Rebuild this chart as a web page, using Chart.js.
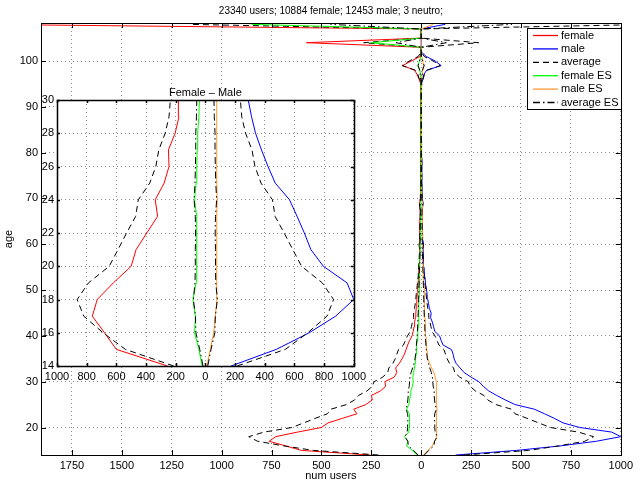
<!DOCTYPE html>
<html>
<head>
<meta charset="utf-8">
<script src="https://cdn.jsdelivr.net/npm/chart.js@4"></script>
<style>
  html, body { margin: 0; padding: 0; background: #fff; }
  #wrap { position: relative; width: 637px; height: 487px; }
  #mainBox { position: absolute; left: 0; top: 0; width: 637px; height: 487px; }
  #insetBox { position: absolute; left: 40px; top: 85px; width: 330px; height: 300px; }
</style>
</head>
<body>
<div id="wrap">
  <div id="mainBox"><canvas id="mainChart"></canvas></div>
  <div id="insetBox"><canvas id="insetChart"></canvas></div>
</div>
<script>
// ages 14..108
const ages = [
  14, 15, 16, 17, 18, 19, 20, 21, 22, 23,
  24, 25, 26, 27, 28, 29, 30, 31, 32, 33,
  34, 35, 36, 37, 38, 39, 40, 41, 42, 43,
  44, 45, 46, 47, 48, 49, 50, 51, 52, 53,
  54, 55, 56, 57, 58, 59, 60, 61, 62, 63,
  64, 65, 66, 67, 68, 69, 70, 71, 72, 73,
  74, 75, 76, 77, 78, 79, 80, 81, 82, 83,
  84, 85, 86, 87, 88, 89, 90, 91, 92, 93,
  94, 95, 96, 97, 98, 99, 100, 101, 102, 103,
  104, 105, 106, 107, 108
];
const female = [
  -255, -600, -680, -762, -729, -620, -500, -467, -395, -322,
  -338, -278, -245, -249, -204, -178, -182, -135, -122, -128,
  -110, -96, -84, -76, -68, -58, -46, -40, -36, -33,
  -29, -27, -25, -23, -21, -20, -18, -16, -15, -13,
  -12, -11, -10, -9, -9, -8, -10, -7, -7, -6,
  -6, -6, -5, -5, -6, -8, -4, -4, -4, -3,
  -3, -3, -3, -2, -4, -2, -2, -2, -2, -1,
  -2, -1, -1, -1, -1, -1, -2, -1, -2, -1,
  -1, -3, -10, -20, -33, -93, -50, -5, 0, 0,
  -575, 0, 0, 0, -2200
];
const male = [
  173, 478, 700, 878, 1000, 955, 795, 711, 667, 618,
  567, 471, 422, 378, 338, 311, 289, 250, 215, 195,
  175, 165, 160, 152, 110, 100, 92, 68, 62, 56,
  47, 50, 41, 37, 33, 30, 27, 24, 21, 18,
  16, 14, 12, 11, 10, 9, 12, 8, 8, 7,
  7, 6, 6, 6, 7, 10, 5, 5, 4, 4,
  4, 3, 3, 3, 5, 2, 3, 2, 2, 2,
  1, 2, 1, 1, 1, 1, 2, 1, 1, 2,
  1, 3, 8, 12, 28, 100, 70, 25, 0, 0,
  0, 0, 0, 0, 120
];
const average = [
  214, 539, 690, 820, 864, 788, 648, 589, 531, 470,
  452, 375, 334, 314, 271, 245, 236, 193, 168, 162,
  142, 130, 122, 114, 89, 79, 69, 54, 49, 44,
  38, 38, 33, 30, 27, 25, 22, 20, 18, 15,
  14, 12, 11, 10, 9, 8, 11, 7, 7, 6,
  6, 6, 5, 5, 6, 9, 4, 4, 4, 3,
  3, 3, 3, 2, 4, 2, 2, 2, 2, 1,
  1, 1, 1, 1, 1, 1, 2, 1, 1, 1,
  1, 3, 9, 16, 30, 96, 60, 15, 0, 0,
  288, 0, 0, 0, 1160
];
const femaleES = [
  -22, -44, -73, -67, -84, -62, -60, -58, -57, -60,
  -73, -62, -58, -55, -52, -44, -40, -42, -38, -34,
  -30, -28, -26, -24, -22, -20, -18, -16, -15, -14,
  -13, -12, -12, -11, -11, -10, -10, -9, -8, -8,
  -7, -7, -6, -6, -5, -5, -6, -4, -4, -4,
  -4, -3, -3, -3, -3, -5, -3, -2, -2, -2,
  -2, -2, -2, -1, -2, -1, -1, -1, -1, -1,
  -1, -1, -1, -1, -1, -1, -1, -1, -1, -1,
  -1, -1, -3, -5, -8, -18, -8, -2, 0, 0,
  -252, 0, 0, 0, -850
];
const maleES = [
  11, 33, 56, 67, 78, 77, 76, 78, 75, 76,
  80, 77, 76, 75, 78, 77, 75, 70, 64, 52,
  42, 34, 31, 29, 27, 25, 23, 22, 21, 20,
  19, 18, 17, 16, 16, 15, 15, 14, 13, 12,
  11, 10, 9, 9, 8, 8, 9, 7, 6, 6,
  6, 5, 5, 5, 5, 7, 4, 4, 3, 3,
  3, 3, 2, 2, 3, 2, 2, 2, 1, 1,
  1, 1, 1, 1, 1, 1, 1, 1, 1, 1,
  1, 2, 3, 5, 6, 12, 8, 3, 0, 0,
  0, 0, 0, 0, 60
];
const averageES = [
  16, 38, 64, 67, 81, 70, 68, 68, 66, 68,
  76, 70, 67, 65, 65, 60, 58, 56, 51, 43,
  36, 31, 28, 26, 24, 22, 20, 19, 18, 17,
  16, 15, 14, 13, 13, 12, 12, 11, 10, 10,
  9, 8, 7, 7, 6, 6, 7, 5, 5, 5,
  5, 4, 4, 4, 4, 6, 3, 3, 2, 2,
  2, 2, 2, 1, 2, 1, 1, 1, 1, 1,
  1, 1, 1, 1, 1, 1, 1, 1, 1, 1,
  1, 1, 3, 5, 7, 15, 8, 2, 0, 0,
  126, 0, 0, 0, 455
];

const titleText = '23340 users; 10884 female; 12453 male; 3 neutro;';
const insetTitle = 'Female \u2013 Male';
const FONT = "'Liberation Sans', Arial, Helvetica, sans-serif";

const RED = '#ff0000', BLUE = '#0000ff', BLACK = '#000000', GREEN = '#00ff00', ORANGE = '#ff9a33';
const DASH = [6, 4], DASHDOT = [7, 3, 1.5, 3];

const legendItems = [
  { label: 'female', color: RED, dash: [] },
  { label: 'male', color: BLUE, dash: [] },
  { label: 'average', color: BLACK, dash: DASH },
  { label: 'female ES', color: GREEN, dash: [] },
  { label: 'male ES', color: ORANGE, dash: [] },
  { label: 'average ES', color: BLACK, dash: DASHDOT }
];

const pts = (vals, sign) => ages.map((a, i) => ({ x: sign * vals[i], y: a }));

function makeDatasets() {
  const ds = (data, color, dash) => ({
    data, borderColor: color, borderDash: dash, borderWidth: 1,
    pointRadius: 0, showLine: true, fill: false, tension: 0
  });
  // first dataset is painted last (on top)
  return [
    ds(pts(averageES, 1), BLACK, DASHDOT),
    ds(pts(averageES, -1), BLACK, DASHDOT),
    ds(pts(maleES, 1), ORANGE, []),
    ds(pts(femaleES, 1), GREEN, []),
    ds(pts(average, 1), BLACK, DASH),
    ds(pts(average, -1), BLACK, DASH),
    ds(pts(male, 1), BLUE, []),
    ds(pts(female, 1), RED, [])
  ];
}

// box, inward ticks, white plot background, texts
const framePlugin = {
  id: 'frame',
  beforeDraw(chart) {
    const { ctx, chartArea: a } = chart;
    ctx.save();
    ctx.fillStyle = '#fff';
    ctx.fillRect(a.left, a.top, a.right - a.left, a.bottom - a.top);
    ctx.restore();
  },
  afterDraw(chart, args, o) {
    const { ctx, chartArea: a, scales } = chart;
    ctx.save();
    ctx.strokeStyle = '#000';
    ctx.lineWidth = o.lineWidth;
    ctx.setLineDash([]);
    ctx.beginPath();
    scales.x.ticks.forEach(t => {
      const px = Math.round(scales.x.getPixelForValue(t.value)) + 0.5;
      ctx.moveTo(px, a.bottom); ctx.lineTo(px, a.bottom - o.tick);
      ctx.moveTo(px, a.top); ctx.lineTo(px, a.top + o.tick);
    });
    scales.y.ticks.forEach(t => {
      const py = Math.round(scales.y.getPixelForValue(t.value)) + 0.5;
      ctx.moveTo(a.left, py); ctx.lineTo(a.left + o.tick, py);
      ctx.moveTo(a.right, py); ctx.lineTo(a.right - o.tick, py);
    });
    ctx.stroke();
    ctx.strokeRect(Math.round(a.left) + 0.5, Math.round(a.top) + 0.5,
      Math.round(a.right - a.left), Math.round(a.bottom - a.top));

    ctx.fillStyle = '#000';
    ctx.textAlign = 'center';
    ctx.textBaseline = 'middle';
    const cx = (a.left + a.right) / 2;
    if (o.title) {
      ctx.font = o.titleSize + 'px ' + FONT;
      ctx.fillText(o.title, cx, o.titleY);
    }
    ctx.font = '11px ' + FONT;
    if (o.xlabel) ctx.fillText(o.xlabel, cx, o.xlabelY);
    if (o.ylabel) {
      ctx.save();
      ctx.translate(o.ylabelX, (a.top + a.bottom) / 2);
      ctx.rotate(-Math.PI / 2);
      ctx.fillText(o.ylabel, 0, 0);
      ctx.restore();
    }

    if (o.legend) {
      const L = o.legend;
      ctx.fillStyle = '#fff';
      ctx.fillRect(L.x, L.y, L.w, L.h);
      ctx.strokeStyle = '#000';
      ctx.lineWidth = 1;
      ctx.strokeRect(L.x + 0.5, L.y + 0.5, L.w, L.h);
      ctx.textAlign = 'left';
      legendItems.forEach((it, i) => {
        const y = L.y + 7.5 + i * 13.4;
        ctx.save();
        ctx.lineWidth = 1.3;
        ctx.strokeStyle = it.color;
        ctx.setLineDash(it.dash);
        ctx.beginPath();
        ctx.moveTo(L.x + 6, y);
        ctx.lineTo(L.x + 31, y);
        ctx.stroke();
        ctx.restore();
        ctx.fillStyle = '#000';
        ctx.fillText(it.label, L.x + 34, y);
      });
    }
    ctx.restore();
  }
};

function axisOpts(min, max, step, fit, horizontal) {
  return {
    type: 'linear', min, max,
    afterFit: s => { if (horizontal) s.height = fit; else s.width = fit; },
    ticks: {
      stepSize: step, includeBounds: false, autoSkip: false, maxRotation: 0,
      color: '#000', font: { family: FONT, size: 11 }, padding: horizontal ? 4 : 3,
      callback: v => String(Math.abs(v))
    },
    grid: { color: 'rgba(0,0,0,0.45)', lineWidth: 1, drawTicks: false },
    border: { display: false, dash: [1, 3] }
  };
}

new Chart(document.getElementById('mainChart'), {
  type: 'scatter',
  data: { datasets: makeDatasets() },
  plugins: [framePlugin],
  options: {
    responsive: true, maintainAspectRatio: false, animation: false,
    layout: { padding: { top: 23, right: 12, left: 0, bottom: 0 } },
    plugins: {
      legend: { display: false }, tooltip: { enabled: false },
      frame: {
        lineWidth: 1, tick: 5,
        title: titleText, titleY: 11, titleSize: 10,
        xlabel: 'num users', xlabelY: 476,
        ylabel: 'age', ylabelX: 9,
        legend: { x: 527, y: 28, w: 94, h: 81 }
      }
    },
    scales: {
      x: axisOpts(-1905, 1000, 250, 32, true),
      y: axisOpts(14, 108.3, 10, 41, false)
    }
  }
});

new Chart(document.getElementById('insetChart'), {
  type: 'scatter',
  data: { datasets: makeDatasets() },
  plugins: [framePlugin],
  options: {
    responsive: true, maintainAspectRatio: false, animation: false,
    layout: { padding: { top: 15, right: 14, left: 0, bottom: 0 } },
    plugins: {
      legend: { display: false }, tooltip: { enabled: false },
      frame: { lineWidth: 1.5, tick: 3, title: insetTitle, titleY: 8, titleSize: 11 }
    },
    scales: {
      x: axisOpts(-1000, 1000, 200, 19, true),
      y: axisOpts(14, 30, 2, 17, false)
    }
  }
});
</script>
</body>
</html>
